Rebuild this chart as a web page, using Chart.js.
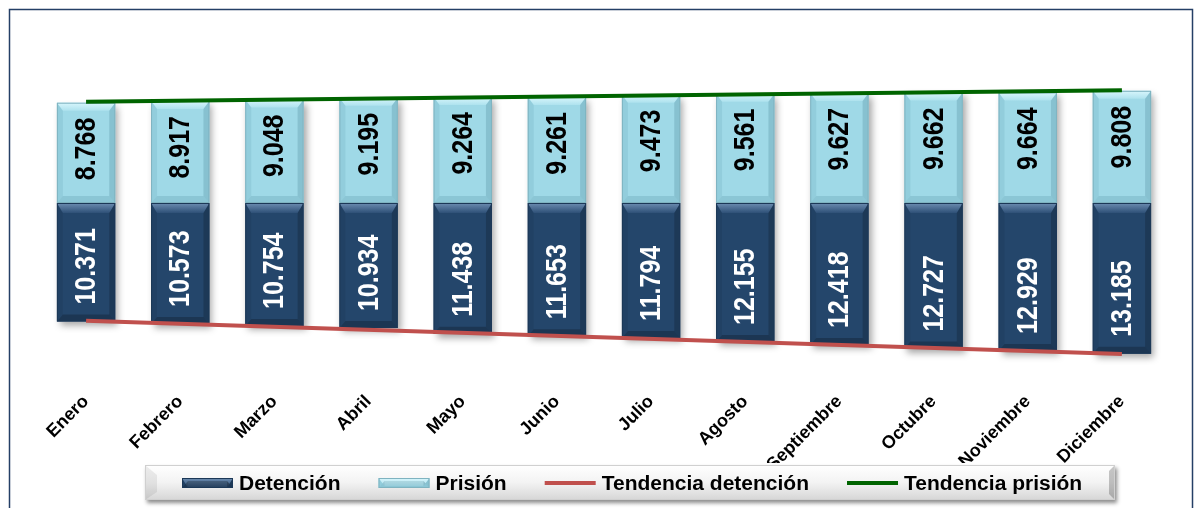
<!DOCTYPE html>
<html>
<head>
<meta charset="utf-8">
<script src="https://cdn.jsdelivr.net/npm/chart.js@4.4.0/dist/chart.umd.min.js"></script>
<style>
  html, body { margin: 0; padding: 0; background: #fff; }
</style>
</head>
<body>
<canvas id="myChart" width="1197" height="508"></canvas>
<script>
// Data
const months = ['Enero', 'Febrero', 'Marzo', 'Abril', 'Mayo', 'Junio', 'Julio',
                'Agosto', 'Septiembre', 'Octubre', 'Noviembre', 'Diciembre'];
const detencion = [10371, 10573, 10754, 10934, 11438, 11653, 11794, 12155, 12418, 12727, 12929, 13185];
const prision = [8768, 8917, 9048, 9195, 9264, 9261, 9473, 9561, 9627, 9662, 9664, 9808];
// straight trend lines: only the first and last month values, joined by spanGaps
const tendDetencion = [10290, null, null, null, null, null, null, null, null, null, null, 13200];
const tendPrision = [8860, null, null, null, null, null, null, null, null, null, null, 9850];

const FONT = '"Liberation Sans", Arial, sans-serif';
const fmt = v => String(Math.abs(v)).replace(/\B(?=(\d{3})+(?!\d))/g, '.');

function barBox(el) {
  const p = el.getProps(['x', 'y', 'base', 'width'], true);
  return { L: p.x - p.width / 2, R: p.x + p.width / 2, T: Math.min(p.y, p.base), B: Math.max(p.y, p.base), x: p.x, y: p.y, base: p.base };
}

function poly(ctx, pts, fill) {
  ctx.beginPath();
  ctx.moveTo(pts[0][0], pts[0][1]);
  for (let i = 1; i < pts.length; i++) ctx.lineTo(pts[i][0], pts[i][1]);
  ctx.closePath();
  ctx.fillStyle = fill;
  ctx.fill();
}

// bevelled edges like the office 3D bars
function bevel(ctx, L, T, R, B, light) {
  const s = 6, t = light ? 8 : 10, b = 7;
  const gTop = ctx.createLinearGradient(0, T, 0, T + t);
  if (light) { gTop.addColorStop(0, '#d8f6fc'); gTop.addColorStop(1, '#aee2ee'); }
  else { gTop.addColorStop(0, '#6d8db1'); gTop.addColorStop(1, '#2e5077'); }
  poly(ctx, [[L, T], [R, T], [R - s, T + t], [L + s, T + t]], gTop);
  poly(ctx, [[L, T], [L + s, T + t], [L + s, B - b], [L, B]], light ? 'rgba(40,110,130,0.10)' : 'rgba(0,0,0,0.06)');
  poly(ctx, [[R, T], [R - s, T + t], [R - s, B - b], [R, B]], light ? 'rgba(40,100,120,0.20)' : 'rgba(0,0,0,0.18)');
  poly(ctx, [[L, B], [L + s, B - b], [R - s, B - b], [R, B]], light ? 'rgba(40,100,120,0.16)' : 'rgba(0,0,0,0.22)');
  ctx.strokeStyle = light ? '#7fb3c0' : '#1c3857';
  ctx.lineWidth = 1;
  ctx.strokeRect(L + 0.5, T + 0.5, R - L - 1, B - T - 1);
}

const decoPlugin = {
  id: 'deco',
  beforeDraw(chart) {
    const ctx = chart.ctx;
    ctx.save();
    ctx.fillStyle = '#fff';
    ctx.fillRect(0, 0, chart.width, chart.height);
    ctx.strokeStyle = '#243f66';
    ctx.lineWidth = 1.5;
    ctx.strokeRect(9.5, 9.5, 1183, 530);
    ctx.restore();
  },
  beforeDatasetsDraw(chart) {
    // soft shadow behind each stacked column
    const ctx = chart.ctx;
    const m0 = chart.getDatasetMeta(0), m1 = chart.getDatasetMeta(1);
    ctx.save();
    ctx.shadowColor = 'rgba(0,0,0,0.35)';
    ctx.shadowBlur = 7;
    ctx.shadowOffsetX = 3;
    ctx.shadowOffsetY = 4;
    ctx.fillStyle = '#fff';
    m0.data.forEach((el, i) => {
      const a = barBox(el), b = barBox(m1.data[i]);
      ctx.fillRect(a.L, b.T, a.R - a.L, a.B - b.T);
    });
    ctx.restore();
  },
  afterDatasetDraw(chart, args) {
    if (args.index > 1) return;
    const ctx = chart.ctx;
    ctx.save();
    args.meta.data.forEach(el => {
      const r = barBox(el);
      bevel(ctx, r.L, r.T, r.R, r.B, args.index === 1);
    });
    ctx.restore();
  },
  afterDatasetsDraw(chart) {
    // value labels, rotated, inside the end of each bar
    const ctx = chart.ctx;
    ctx.save();
    ctx.font = 'bold 25px ' + FONT;
    ctx.textBaseline = 'middle';
    [0, 1].forEach(d => {
      const ds = chart.data.datasets[d];
      chart.getDatasetMeta(d).data.forEach((el, i) => {
        const r = barBox(el);
        const up = r.y < r.base;
        ctx.save();
        ctx.translate(r.x, up ? r.y + 15 : r.y - 17);
        ctx.rotate(-Math.PI / 2);
        ctx.scale(1, 1.15);
        ctx.textAlign = up ? 'right' : 'left';
        ctx.fillStyle = d === 0 ? '#ffffff' : '#000000';
        ctx.fillText(fmt(ds.data[i]), 0, 1);
        ctx.restore();
      });
    });
    ctx.restore();
  },
  afterDraw(chart) {
    // legend box
    const ctx = chart.ctx;
    const L = 145, T = 465, W = 970, H = 35;
    ctx.save();
    ctx.shadowColor = 'rgba(0,0,0,0.45)';
    ctx.shadowBlur = 4;
    ctx.shadowOffsetX = 2;
    ctx.shadowOffsetY = 3;
    const g = ctx.createLinearGradient(0, T, 0, T + H);
    g.addColorStop(0, '#ffffff');
    g.addColorStop(0.5, '#f3f3f3');
    g.addColorStop(1, '#d6d6d6');
    ctx.fillStyle = g;
    ctx.fillRect(L, T, W, H);
    ctx.restore();
    ctx.save();
    poly(ctx, [[L, T], [L + 12, T + 10], [L + 12, T + H - 8], [L, T + H]], 'rgba(0,0,0,0.07)');
    poly(ctx, [[L + W, T], [L + W - 6, T + 6], [L + W - 6, T + H - 6], [L + W, T + H]], 'rgba(0,0,0,0.22)');
    ctx.strokeStyle = '#d0d0d0';
    ctx.lineWidth = 1;
    ctx.strokeRect(L + 0.5, T + 0.5, W - 1, H - 1);

    const cy = T + 18;
    let x = L + 37;
    ctx.font = 'bold 20px ' + FONT;
    ctx.textBaseline = 'middle';
    ctx.textAlign = 'left';
    chart.data.datasets.forEach((ds, i) => {
      if (ds.type === 'bar') {
        ctx.fillStyle = ds.backgroundColor;
        ctx.fillRect(x, cy - 5, 51, 10);
        bevel(ctx, x, cy - 5, x + 51, cy + 5, i === 1);
      } else {
        ctx.fillStyle = ds.borderColor;
        ctx.fillRect(x, cy - 2, 51, 4);
      }
      x += 57;
      ctx.save();
      ctx.translate(x, cy + 1);
      ctx.scale(1.05, 1);
      ctx.fillStyle = '#000';
      ctx.fillText(ds.label, 0, 0);
      ctx.restore();
      x += ctx.measureText(ds.label).width * 1.05 + 38;
    });
    ctx.restore();
  }
};

const ctx = document.getElementById('myChart').getContext('2d');

const data = {
  labels: months,
  datasets: [
    {
      type: 'bar',
      label: 'Detención',
      data: detencion.map(v => -v), // drawn below the baseline
      backgroundColor: '#24466b',
      borderWidth: 0,
      barPercentage: 0.62,
      categoryPercentage: 1,
      order: 1
    },
    {
      type: 'bar',
      label: 'Prisión',
      data: prision,
      backgroundColor: '#9fd9e7',
      borderWidth: 0,
      barPercentage: 0.62,
      categoryPercentage: 1,
      order: 1
    },
    {
      type: 'line',
      label: 'Tendencia detención',
      data: tendDetencion.map(v => v === null ? null : -v),
      borderColor: '#c0504d',
      borderWidth: 4,
      pointRadius: 0,
      spanGaps: true,
      fill: false,
      stack: 'td',
      order: 0
    },
    {
      type: 'line',
      label: 'Tendencia prisión',
      data: tendPrision,
      borderColor: '#006400',
      borderWidth: 4,
      pointRadius: 0,
      spanGaps: true,
      fill: false,
      stack: 'tp',
      order: 0
    }
  ]
};

const config = {
  type: 'bar',
  data: data,
  plugins: [decoPlugin],
  options: {
    responsive: false,
    animation: false,
    layout: { padding: { top: 20, left: 39, right: 28, bottom: 45 } },
    plugins: {
      legend: { display: false },
      tooltip: { enabled: false }
    },
    scales: {
      x: {
        stacked: true,
        grid: { display: false, drawTicks: false },
        border: { display: false },
        ticks: {
          color: '#000',
          font: { family: FONT, size: 18, weight: 'bold' },
          maxRotation: 45,
          minRotation: 45,
          autoSkip: false,
          padding: 5
        },
        afterFit: scale => { scale.height = 77; }
      },
      y: {
        display: false,
        stacked: true,
        min: -16000,
        max: 16000
      }
    }
  }
};

const myChart = new Chart(ctx, config);
</script>
</body>
</html>
